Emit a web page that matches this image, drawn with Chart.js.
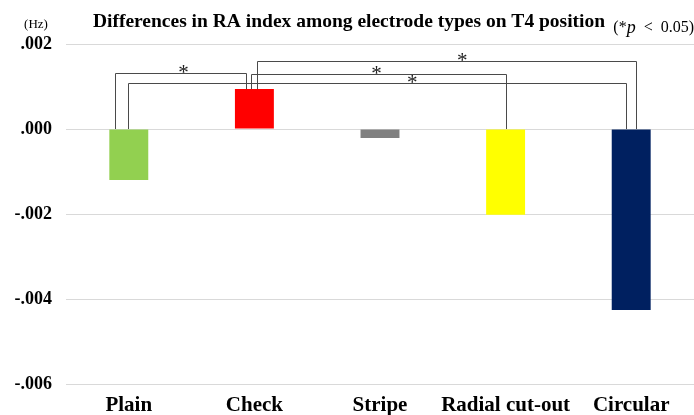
<!DOCTYPE html>
<html>
<head>
<meta charset="utf-8">
<script src="https://cdn.jsdelivr.net/npm/chart.js@4.4.1/dist/chart.umd.min.js"></script>
<style>
  html, body { margin: 0; padding: 0; background: #fff; }
  #wrap { width: 694px; height: 415px; position: relative; }
</style>
</head>
<body>
<div id="wrap"><canvas id="chart"></canvas></div>
<script>
// data
const categories = ['Plain', 'Check', 'Stripe', 'Radial cut-out', 'Circular'];
const raIndex = [-0.0012, 0.00094, -0.00021, -0.00202, -0.00426];
const barColors = ['#92d050', '#ff0000', '#808080', '#ffff00', '#002060'];
const yTicks = [0.002, 0.000, -0.002, -0.004, -0.006];

// significance brackets (category index pairs), bracket height in Hz, star position along bracket
const sigPairs = [[0, 1], [0, 4], [1, 3], [1, 4]];
const sigLevels = [0.00132, 0.00109, 0.0013, 0.00159];
const sigStarAt = [0.52, 0.57, 0.49, 0.54];

const SERIF = "'Liberation Serif', 'Times New Roman', serif";

const fmtTick = (v) => {
    const s = Math.abs(v).toFixed(3).replace(/^0/, '');
    return (v < -1e-9 ? '-' : '') + s;
};

// little pixel offsets so the bracket legs don't overlap each other
const legOffsets = {
    '0-1': [-14, -8],
    '0-4': [-1, -5],
    '1-3': [-3, 0],
    '1-4': [3, 5]
};

const extrasPlugin = {
    id: 'extras',
    afterDatasetsDraw(chart) {
        const { ctx, scales: { x, y } } = chart;
        ctx.save();
        ctx.strokeStyle = '#4a4a4a';
        ctx.lineWidth = 1;
        sigPairs.forEach((p, i) => {
            const off = legOffsets[p[0] + '-' + p[1]];
            const x1 = Math.round(x.getPixelForValue(p[0]) + off[0]) + 0.5;
            const x2 = Math.round(x.getPixelForValue(p[1]) + off[1]) + 0.5;
            const yTop = Math.round(y.getPixelForValue(sigLevels[i])) + 0.5;
            const y1 = y.getPixelForValue(Math.max(raIndex[p[0]], 0));
            const y2 = y.getPixelForValue(Math.max(raIndex[p[1]], 0));
            ctx.beginPath();
            ctx.moveTo(x1, y1);
            ctx.lineTo(x1, yTop);
            ctx.lineTo(x2, yTop);
            ctx.lineTo(x2, y2);
            ctx.stroke();

            ctx.fillStyle = '#222';
            ctx.font = '21px ' + SERIF;
            ctx.textAlign = 'center';
            ctx.textBaseline = 'alphabetic';
            ctx.fillText('*', x1 + (x2 - x1) * sigStarAt[i], yTop + 5);
        });
        ctx.restore();
    },
    afterDraw(chart) {
        const { ctx } = chart;
        ctx.save();
        ctx.fillStyle = '#000';
        ctx.textBaseline = 'middle';
        ctx.textAlign = 'center';
        ctx.font = 'bold 19.5px ' + SERIF;
        ctx.fillText('Differences in RA index among electrode types on T4 position', 349, 22);
        ctx.font = '13px ' + SERIF;
        ctx.fillText('(Hz)', 36, 25);
        ctx.textAlign = 'right';
        ctx.font = '16px ' + SERIF;
        const tail = '  <  0.05)';
        const tw = ctx.measureText(tail).width;
        ctx.fillText(tail, 694, 28);
        ctx.font = 'italic 18px ' + SERIF;
        const pw = ctx.measureText('p').width;
        ctx.fillText('p', 694 - tw, 28);
        ctx.font = '16px ' + SERIF;
        ctx.fillText('(*', 694 - tw - pw, 28);
        ctx.restore();
    }
};

new Chart(document.getElementById('chart'), {
    type: 'bar',
    data: {
        labels: categories,
        datasets: [{
            data: raIndex,
            backgroundColor: barColors,
            borderWidth: 0,
            barPercentage: 0.31,
            categoryPercentage: 1
        }]
    },
    plugins: [extrasPlugin],
    options: {
        responsive: true,
        maintainAspectRatio: false,
        animation: false,
        layout: { padding: { top: 44, right: 0, left: 0, bottom: 0 } },
        plugins: {
            legend: { display: false },
            title: { display: false },
            tooltip: { enabled: false }
        },
        scales: {
            y: {
                min: -0.006,
                max: 0.002,
                afterBuildTicks: (axis) => { axis.ticks = yTicks.map(v => ({ value: v })); },
                afterFit: (axis) => { axis.width = 66; },
                border: { display: false },
                grid: { color: '#d9d9d9', lineWidth: 1, drawTicks: false },
                ticks: {
                    padding: 14,
                    color: '#000',
                    font: { family: SERIF, size: 18, weight: 'bold' },
                    callback: (v) => fmtTick(v)
                }
            },
            x: {
                afterFit: (axis) => { axis.height = 31; },
                border: { display: false },
                grid: { display: false, drawTicks: false },
                ticks: {
                    padding: 9,
                    maxRotation: 0,
                    minRotation: 0,
                    autoSkip: false,
                    color: '#000',
                    font: { family: SERIF, size: 21, weight: 'bold' }
                }
            }
        }
    }
});
</script>
</body>
</html>
